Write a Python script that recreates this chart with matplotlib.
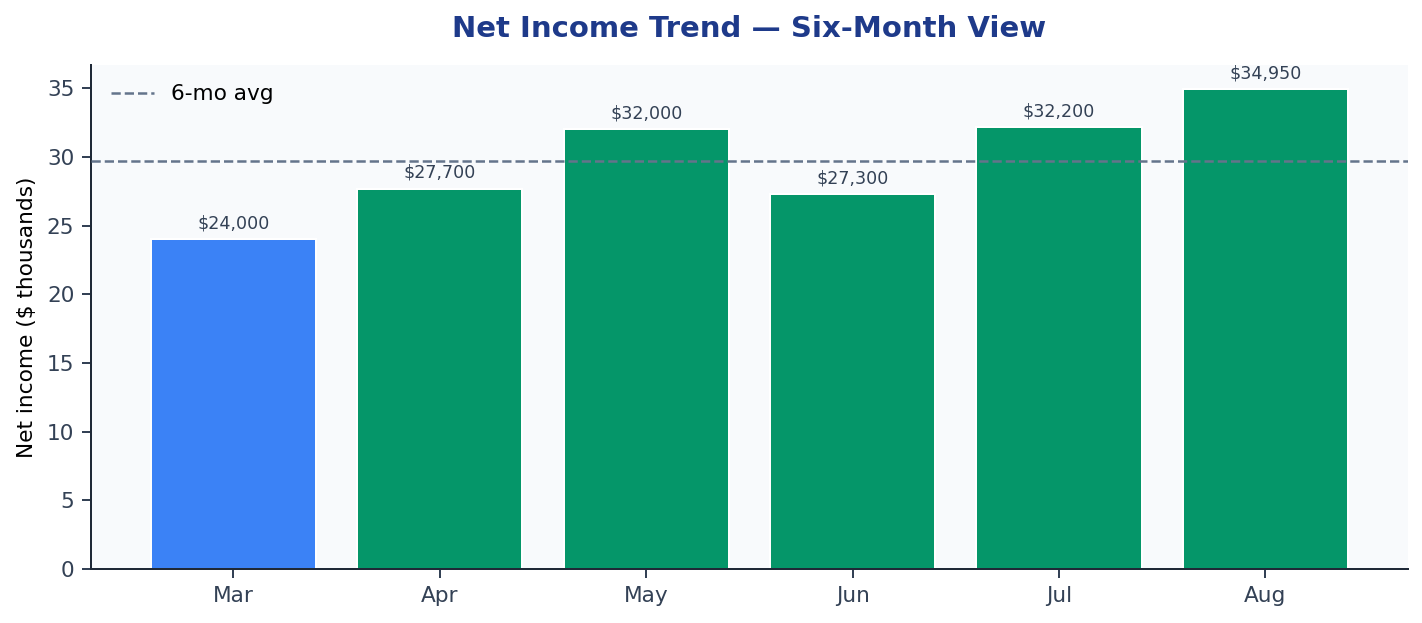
import matplotlib.pyplot as plt

# datos del grafico
meses = ['Mar', 'Apr', 'May', 'Jun', 'Jul', 'Aug']
ingreso_neto = [24000, 27700, 32000, 27300, 32200, 34950]
colores = ['#3b82f6', '#059669', '#059669', '#059669', '#059669', '#059669']

valores_k = [v / 1000 for v in ingreso_neto]
promedio = sum(valores_k) / len(valores_k)

fig, ax = plt.subplots(figsize=(11.85, 5.1917), dpi=120)
fig.subplots_adjust(left=0.064, right=0.99, top=0.8957, bottom=0.0867)
ax.set_facecolor('#f8fafc')

barras = ax.bar(meses, valores_k, width=0.8, color=colores, edgecolor='white', linewidth=1.2, zorder=2)
ax.axhline(promedio, color='#64748b', linestyle='--', linewidth=1.5, label='6-mo avg', zorder=3)

for barra, v in zip(barras, ingreso_neto):
    ax.annotate(f"${v:,}", (barra.get_x() + barra.get_width() / 2, barra.get_height()),
                xytext=(0, 4), textcoords='offset points', ha='center', va='bottom',
                fontsize=10.5, color='#334155')

ax.set_ylim(0, max(valores_k) * 1.05)
ax.set_title('Net Income Trend — Six-Month View', fontsize=17.5, fontweight='bold', color='#1e3a8a', pad=17)
ax.set_ylabel('Net income ($ thousands)', fontsize=13, labelpad=6)
ax.tick_params(axis='both', labelsize=13, colors='#334155', length=5.5, width=1.2, pad=4.5)
ax.spines['top'].set_visible(False)
ax.spines['right'].set_visible(False)
ax.spines['left'].set_linewidth(1.2)
ax.spines['bottom'].set_linewidth(1.2)
ax.spines['left'].set_color('#1f2937')
ax.spines['bottom'].set_color('#1f2937')
ax.legend(loc='upper left', frameon=False, fontsize=13)

plt.savefig('out.png')
